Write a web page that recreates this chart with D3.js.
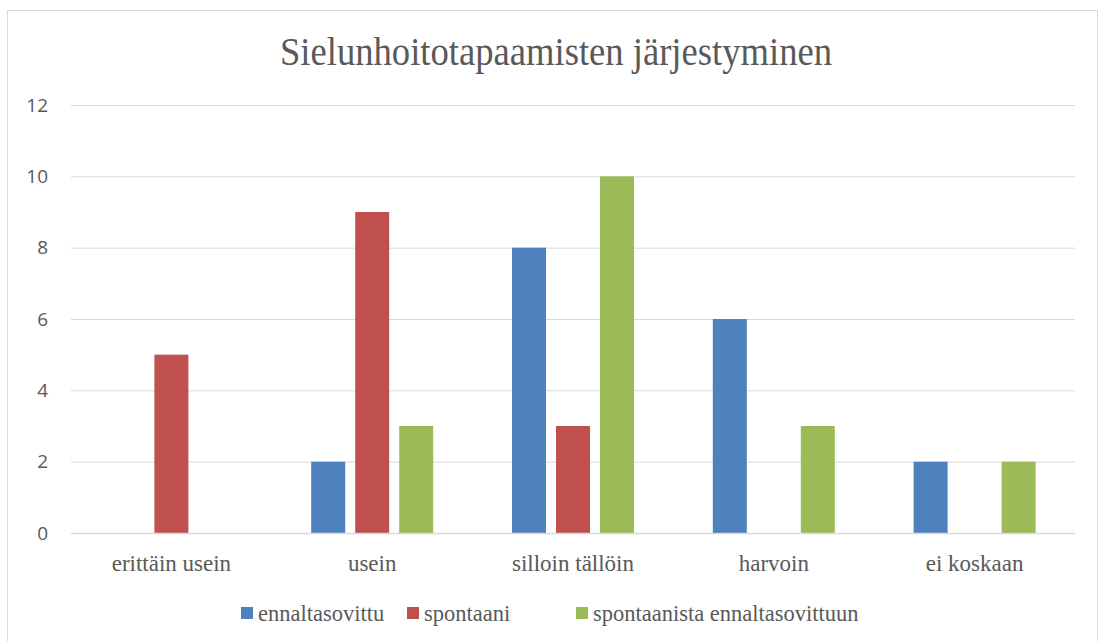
<!DOCTYPE html>
<html>
<head>
<meta charset="utf-8">
<script src="https://cdn.jsdelivr.net/npm/d3@7"></script>
<style>
  body { margin: 0; background: #fff; }
</style>
</head>
<body>
<div id="chart"></div>
<script>
'use strict'

// data
const categories = ['erittäin usein', 'usein', 'silloin tällöin', 'harvoin', 'ei koskaan']
const seriesNames = ['ennaltasovittu', 'spontaani', 'spontaanista ennaltasovittuun']
const ennaltasovittu = [0, 2, 8, 6, 2]
const spontaani = [5, 9, 3, 0, 0]
const spontaanistaEnnaltasovittuun = [0, 3, 10, 3, 2]
const yTicks = [0, 2, 4, 6, 8, 10, 12]

const seriesValues = [ennaltasovittu, spontaani, spontaanistaEnnaltasovittuun]
const colors = ['#4f81bd', '#c0504d', '#9bbb59']

const svgWidth = 1104
const svgHeight = 641
const margin = { left: 71, right: 29, top: 105, bottom: 108 }
const width = svgWidth - margin.left - margin.right
const height = svgHeight - margin.top - margin.bottom

const serif = 'Liberation Serif, Times New Roman, serif'

const svg = d3.select('#chart').append('svg')
    .attr('width', svgWidth)
    .attr('height', svgHeight)

// outer frame
svg.append('rect')
    .attr('x', 7.5).attr('y', 10.5)
    .attr('width', 1090).attr('height', 640)
    .attr('fill', '#fff')
    .attr('stroke', '#d9d9d9')

// title
svg.append('text')
    .attr('x', 556).attr('y', 65)
    .attr('text-anchor', 'middle')
    .style('font-family', serif)
    .style('font-size', '40px')
    .attr('fill', '#595959')
    .attr('textLength', 552)
    .attr('lengthAdjust', 'spacingAndGlyphs')
    .text('Sielunhoitotapaamisten  järjestyminen')

const g = svg.append('g')
    .attr('transform', `translate(${margin.left},${margin.top})`)

// scales
const x0 = d3.scaleBand().domain(categories).range([0, width]).padding(0)
const x1 = d3.scaleBand().domain(seriesNames)
    .range([-66, 66]).paddingInner(10 / 44).paddingOuter(5 / 44)
const y = d3.scaleLinear().domain([0, 12]).range([height, 0])
const color = d3.scaleOrdinal().domain(seriesNames).range(colors)

// gridlines
g.append('g')
    .selectAll('line')
    .data(yTicks)
    .enter().append('line')
    .attr('x1', 0).attr('x2', width)
    .attr('y1', d => y(d) + 0.5).attr('y2', d => y(d) + 0.5)
    .attr('stroke', '#d9d9d9')
    .attr('stroke-width', 1)

// y-axis labels
const yAxis = g.append('g')
    .call(d3.axisLeft(y).tickValues(yTicks).tickSize(0).tickPadding(23))
yAxis.select('.domain').remove()
yAxis.selectAll('text')
    .style('font-family', 'Open Sans, sans-serif')
    .style('font-size', '19px')
    .attr('fill', '#595959')

// bars
const rows = categories.map((c, i) => ({
    category: c,
    values: seriesNames.map((s, j) => ({ series: s, value: seriesValues[j][i] }))
}))

g.selectAll('.group')
    .data(rows)
    .enter().append('g')
    .attr('class', 'group')
    .attr('transform', d => `translate(${x0(d.category) + x0.bandwidth() / 2},0)`)
    .selectAll('rect')
    .data(d => d.values.filter(v => v.value > 0))
    .enter().append('rect')
    .attr('x', d => x1(d.series))
    .attr('y', d => y(d.value))
    .attr('width', x1.bandwidth())
    .attr('height', d => height - y(d.value))
    .attr('fill', d => color(d.series))

// x-axis line
g.append('line')
    .attr('x1', 0).attr('x2', width)
    .attr('y1', height + 0.5).attr('y2', height + 0.5)
    .attr('stroke', '#d9d9d9')
    .attr('stroke-width', 1.5)

// x-axis labels
const xAxis = g.append('g')
    .attr('transform', `translate(0,${height})`)
    .call(d3.axisBottom(x0).tickSize(0).tickPadding(22))
xAxis.select('.domain').remove()
xAxis.selectAll('text')
    .style('font-family', serif)
    .style('font-size', '23px')
    .attr('fill', '#595959')

// legend
const legendX = [241, 407, 576]
const legend = svg.append('g')
    .selectAll('g')
    .data(seriesNames)
    .enter().append('g')
    .attr('transform', (d, i) => `translate(${legendX[i]},607)`)

legend.append('rect')
    .attr('width', 12).attr('height', 12)
    .attr('fill', d => color(d))

legend.append('text')
    .attr('x', 17).attr('y', 14)
    .style('font-family', serif)
    .style('font-size', '22.5px')
    .attr('fill', '#595959')
    .text(d => d)
</script>
</body>
</html>
